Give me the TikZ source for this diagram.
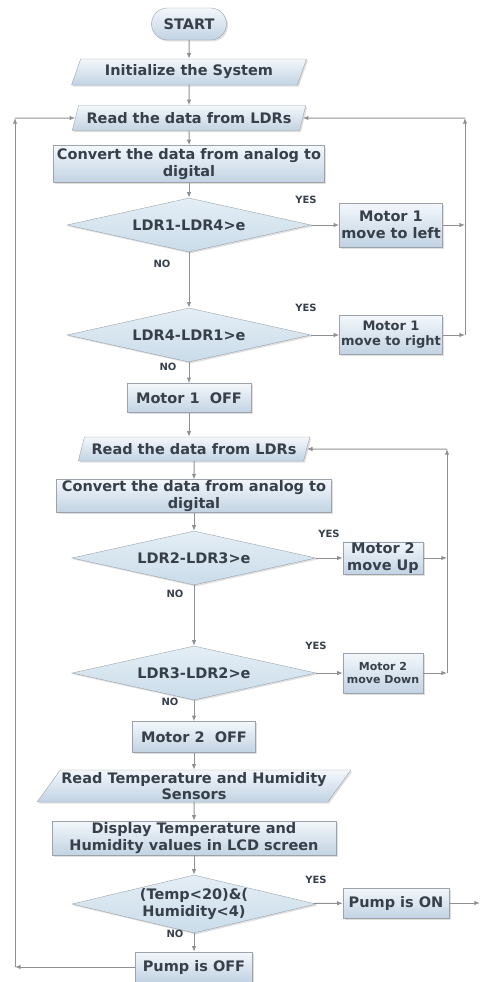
\documentclass[tikz,border=0pt]{standalone}
\usepackage{fontspec}
\setmainfont{DejaVu Sans}
\usetikzlibrary{arrows.meta,positioning,shapes.geometric,shapes.misc,shadows}
\usepackage{xcolor}
\definecolor{boxline}{HTML}{9CA3AB}
\definecolor{boxtop}{HTML}{F3F7FB}
\definecolor{boxbot}{HTML}{C2D3E3}
\definecolor{dectop}{HTML}{E4EEF5}
\definecolor{decbot}{HTML}{CADCEA}
\definecolor{txt}{HTML}{363F4A}
\definecolor{wire}{HTML}{8E9194}
\tikzset{
  box/.style={draw=boxline, top color=boxtop, bottom color=boxbot, text=txt, align=center, inner sep=1pt,
    font=\bfseries\fontsize{14.5}{16.5}\selectfont, drop shadow={shadow xshift=1.5pt, shadow yshift=-1.5pt, fill=black!25}},
  procbox/.style={box, rectangle},
  iobox/.style={box, trapezium, trapezium left angle=66, trapezium right angle=114, trapezium stretches=true},
  decbox/.style={box, diamond, top color=dectop, bottom color=decbot, aspect=4.6, inner sep=0pt, minimum width=244pt, minimum height=54pt},
  termbox/.style={box, rounded rectangle},
  lbl/.style={text=txt, font=\bfseries\fontsize{10}{12}\selectfont},
  arrow/.style={-{Latex[length=2mm,width=1.6mm]}, line width=1pt, draw=wire}
}

\begin{document}
\begin{tikzpicture}[x=1pt, y=-1pt]
  \useasboundingbox (0,0) rectangle (481,982);

  % first loop: horizontal motor
  \node[termbox, minimum width=77pt, minimum height=32pt] (start) at (189,24) {START};
  \node[iobox, minimum width=235pt, minimum height=26pt] (init) at (189,72) {Initialize the System};
  \node[iobox, minimum width=234pt, minimum height=25pt] (read1) at (189,118) {Read the data from LDRs};
  \node[procbox, minimum width=271pt, minimum height=37pt] (conv1) at (189,164) {Convert the data from analog to\\digital};
  \node[decbox] (dec1) at (189,225) {LDR1-LDR4>e};
  \node[procbox, minimum width=103pt, minimum height=44pt] (mleft) at (391,225) {Motor 1\\move to left};
  \node[decbox] (dec2) at (189,335) {LDR4-LDR1>e};
  \node[procbox, minimum width=103pt, minimum height=39pt, font=\bfseries\fontsize{13}{15}\selectfont] (mright) at (391,335) {Motor 1\\move to right};
  \node[procbox, minimum width=124pt, minimum height=29pt] (m1off) at (189,398) {Motor 1\ \ OFF};

  % second loop: vertical motor
  \node[iobox, minimum width=232pt, minimum height=24pt] (read2) at (194,449) {Read the data from LDRs};
  \node[procbox, minimum width=275pt, minimum height=31pt] (conv2) at (194,496) {Convert the data from analog to\\digital};
  \node[decbox] (dec3) at (194,558) {LDR2-LDR3>e};
  \node[procbox, minimum width=80pt, minimum height=31pt] (mup) at (383,558) {Motor 2\\move Up};
  \node[decbox] (dec4) at (194,673) {LDR3-LDR2>e};
  \node[procbox, minimum width=80pt, minimum height=40pt, font=\bfseries\fontsize{11}{13}\selectfont] (mdown) at (383,673) {Motor 2\\move Down};
  \node[procbox, minimum width=123pt, minimum height=31pt] (m2off) at (194,737) {Motor 2\ \ OFF};

  % sensors and pump
  \node[iobox, trapezium left angle=52, trapezium right angle=128, minimum width=308pt, minimum height=32pt] (readth) at (194,786) {Read Temperature and Humidity\\Sensors};
  \node[procbox, minimum width=284pt, minimum height=34pt] (disp) at (194,838) {Display Temperature and\\Humidity values in LCD screen};
  \node[decbox, inner ysep=-8pt, minimum height=58pt] (dec5) at (194,904) {(Temp<20)\&(\\Humidity<4)};
  \node[procbox, minimum width=106pt, minimum height=30pt] (pon) at (396,903) {Pump is ON};
  \node[procbox, minimum width=117pt, minimum height=30pt] (poff) at (194,967) {Pump is OFF};

  % yes / no labels
  \node[lbl] (y1) at (306,200) {YES};
  \node[lbl] (n1) at (162,264) {NO};
  \node[lbl] (y2) at (306,308) {YES};
  \node[lbl] (n2) at (168,367) {NO};
  \node[lbl] (y3) at (329,534) {YES};
  \node[lbl] (n3) at (175,594) {NO};
  \node[lbl] (y4) at (316,646) {YES};
  \node[lbl] (n4) at (170,702) {NO};
  \node[lbl] (y5) at (316,880) {YES};
  \node[lbl] (n5) at (175,934) {NO};

  % loop corners
  \coordinate (ra) at (465,118);
  \coordinate (rb) at (447,449);
  \coordinate (lb) at (15,967);
  \coordinate (lt) at (15,118);
  \coordinate (pend) at (480,903);

  % main flow
  \draw[arrow] (start) -- (init);
  \draw[arrow] (init) -- (read1);
  \draw[arrow] (read1) -- (conv1);
  \draw[arrow] (conv1) -- (dec1);
  \draw[arrow] (dec1) -- (dec2);
  \draw[arrow] (dec2) -- (m1off);
  \draw[arrow] (m1off.south) -- (m1off.south |- read2.north);
  \draw[arrow] (read2) -- (conv2);
  \draw[arrow] (conv2) -- (dec3);
  \draw[arrow] (dec3) -- (dec4);
  \draw[arrow] (dec4) -- (m2off);
  \draw[arrow] (m2off) -- (readth);
  \draw[arrow] (readth) -- (disp);
  \draw[arrow] (disp) -- (dec5);
  \draw[arrow] (dec5) -- (poff);

  % yes branches
  \draw[arrow] (dec1) -- (mleft);
  \draw[arrow] (dec2) -- (mright);
  \draw[arrow] (dec3) -- (mup);
  \draw[arrow] (dec4) -- (mdown);
  \draw[arrow] (dec5) -- (pon);
  \draw[arrow] (pon) -- (pend);

  % back to reading
  \draw[arrow] (mleft.east) -- (mleft.east -| ra);
  \draw[arrow] (mright.east) -- (mright.east -| ra);
  \draw[arrow] (mright.east -| ra) -- (ra);
  \draw[arrow] (ra) -- (read1.east);
  \draw[arrow] (mup.east) -- (mup.east -| rb);
  \draw[arrow] (mdown.east) -- (mdown.east -| rb);
  \draw[arrow] (mdown.east -| rb) -- (rb);
  \draw[arrow] (rb) -- (read2.east);
  \draw[arrow] (poff) -- (lb);
  \draw[arrow] (lb) -- (lt);
  \draw[arrow] (lt) -- (read1.west);
\end{tikzpicture}
\end{document}
